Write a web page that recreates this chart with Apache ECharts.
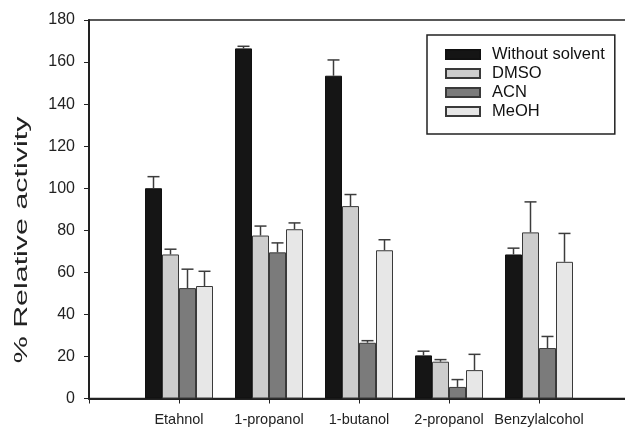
<!DOCTYPE html>
<html>
<head>
<meta charset="utf-8">
<script src="https://cdn.jsdelivr.net/npm/echarts@6/dist/echarts.min.js"></script>
<style>html,body{margin:0;padding:0;background:#fff}#c{width:625px;height:427px}</style>
</head>
<body>
<div id="c"></div>
<script>
const categories = ['Etahnol', '1-propanol', '1-butanol', '2-propanol', 'Benzylalcohol'];
const seriesNames = ['Without solvent', 'DMSO', 'ACN', 'MeOH'];
const withoutSolvent = [100, 166.5, 153.5, 20.5, 68.5];
const withoutSolventErr = [5.5, 1, 7.5, 2, 3];
const dmso = [68.5, 77.5, 91.5, 17.5, 79];
const dmsoErr = [2.5, 4.5, 5.5, 1, 14.5];
const acn = [52.5, 69.5, 26.5, 5.5, 24];
const acnErr = [9, 4.5, 1, 3.5, 5.5];
const meoh = [53.5, 80.5, 70.5, 13.5, 65];
const meohErr = [7, 3, 5, 7.5, 13.5];
const yTicks = [0, 20, 40, 60, 80, 100, 120, 140, 160, 180];
const yTitle = '% Relative activity';

const values = [withoutSolvent, dmso, acn, meoh];
const errs = [withoutSolventErr, dmsoErr, acnErr, meohErr];
const colors = ['#151515', '#cdcdcd', '#7b7b7b', '#e7e7e7'];
const axisCats = [''].concat(categories, ['']);
const BAR_W = 17;
const FONT = 'Liberation Sans, Arial, sans-serif';

const chart = echarts.init(document.getElementById('c'));
const series = [];
values.forEach((vals, si) => {
  series.push({
    name: seriesNames[si],
    type: 'bar',
    barWidth: BAR_W,
    barGap: 0,
    itemStyle: { color: colors[si], borderColor: si === 0 ? '#111' : '#3a3a3a', borderWidth: 1 },
    data: vals.map((v, i) => [i + 1, v]),
    z: 2
  });
});
values.forEach((vals, si) => {
  series.push({
    type: 'custom',
    z: 3,
    silent: true,
    data: vals.map((v, i) => [i + 1, v, errs[si][i]]),
    renderItem: function (params, api) {
      const x = api.value(0), v = api.value(1), e = api.value(2);
      const p0 = api.coord([x, v]);
      const p1 = api.coord([x, v + e]);
      const off = (si - 1.5) * BAR_W;
      const cx = p0[0] + off;
      const cap = 6;
      const style = { stroke: '#3c3c3c', lineWidth: 1.5 };
      return {
        type: 'group',
        children: [
          { type: 'line', shape: { x1: cx, y1: p0[1], x2: cx, y2: p1[1] }, style: style },
          { type: 'line', shape: { x1: cx - cap, y1: p1[1], x2: cx + cap, y2: p1[1] }, style: style }
        ]
      };
    }
  });
});

chart.setOption({
  animation: false,
  backgroundColor: '#fff',
  textStyle: { fontFamily: FONT },
  grid: { left: 89, top: 20, width: 540, height: 378.5, outerBoundsMode: 'none', containLabel: false, show: true, borderColor: '#222', borderWidth: 1.5, backgroundColor: 'transparent' },
  graphic: [{
    type: 'text',
    x: 22,
    y: 240,
    rotation: Math.PI / 2,
    scaleX: 1.6,
    style: { text: yTitle, fontSize: 19, fill: '#222', align: 'center', verticalAlign: 'middle', fontFamily: FONT }
  }],
  legend: {
    data: seriesNames,
    orient: 'vertical',
    left: 427,
    top: 35,
    padding: [11, 10, 14, 18],
    itemWidth: 34,
    itemHeight: 9,
    itemGap: 2,
    borderColor: '#222',
    borderWidth: 1.5,
    backgroundColor: '#fff',
    icon: 'rect',
    textStyle: { fontSize: 16.5, color: '#111', padding: [0, 0, 0, 7], fontFamily: FONT }
  },
  xAxis: {
    type: 'category',
    data: axisCats,
    boundaryGap: false,
    axisLine: { lineStyle: { color: '#222', width: 2 } },
    axisTick: { show: true, length: 5, lineStyle: { color: '#222', width: 1 } },
    axisLabel: { fontSize: 14.5, color: '#222', margin: 14, interval: 0 },
    splitLine: { show: false }
  },
  yAxis: {
    type: 'value',
    min: 0,
    max: 180,
    interval: 20,
    axisLine: { show: true, lineStyle: { color: '#222', width: 2 } },
    axisTick: { show: true, length: 5, lineStyle: { color: '#222', width: 1 } },
    axisLabel: { fontSize: 16, color: '#222', margin: 14, formatter: v => yTicks.includes(v) ? String(v) : '' },
    splitLine: { show: false }
  },
  series: series
});
</script>
</body>
</html>
